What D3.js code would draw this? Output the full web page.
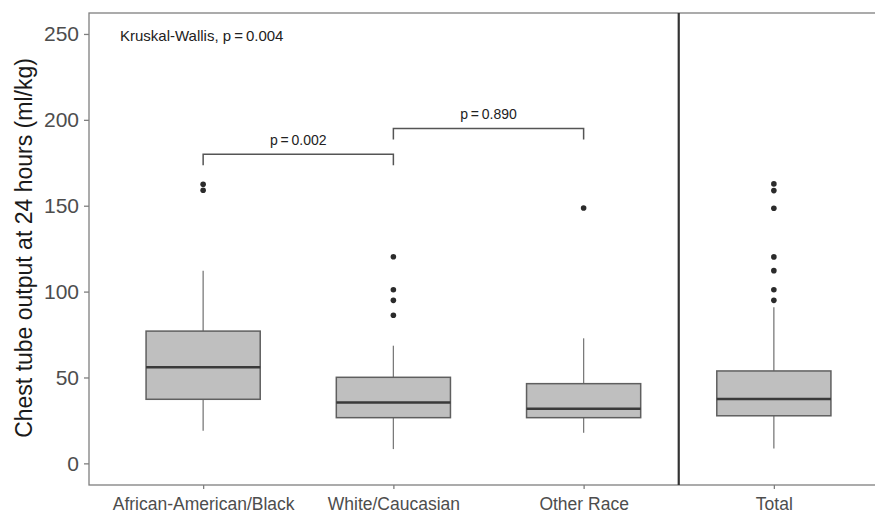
<!DOCTYPE html>
<html>
<head>
<meta charset="utf-8">
<script src="https://cdn.jsdelivr.net/npm/d3@7"></script>
<style>
  body { margin: 0; background: #fff; }
  text { font-family: "Liberation Sans", Arial, sans-serif; }
</style>
</head>
<body>
<div class="boxplot"></div>
<script>
// groups and box stats
const groups = ["African-American/Black", "White/Caucasian", "Other Race", "Total"];
const q1 = [37.3, 26.6, 26.6, 27.7];
const median = [56.0, 35.5, 31.8, 37.4];
const q3 = [77.0, 50.1, 46.4, 53.8];
const whiskerLow = [19.0, 8.3, 17.8, 8.7];
const whiskerHigh = [112.2, 68.5, 72.8, 90.9];
const outliers = [
    [162.5, 159.0],
    [120.3, 101.1, 94.9, 86.2],
    [148.7],
    [162.7, 158.8, 148.5, 120.2, 112.2, 101.1, 94.9]
];
const yTicks = [0, 50, 100, 150, 200, 250];
// pairwise comparisons: [from, to, bracket level, p]
const comparisons = [
    ["African-American/Black", "White/Caucasian", 180, "p\u2009=\u20090.002"],
    ["White/Caucasian", "Other Race", 195, "p\u2009=\u20090.890"]
];
const kruskalText = "Kruskal-Wallis, p\u2009=\u20090.004";

const margin = ({top: 13, right: -13, bottom: 28, left: 89});
const W = 875, H = 513;

const svg = d3.select(".boxplot")
    .append("svg")
    .attr("width", W)
    .attr("height", H);

const x = d3.scalePoint()
    .domain(groups)
    .range([margin.left, W - margin.right])
    .padding(0.6);

const y = d3.scaleLinear()
    .domain([-12.6, 262.2])
    .range([H - margin.bottom, margin.top]);

const boxW = x.step() * 0.6;

const data = groups.map((g, i) => ({
    g, q1: q1[i], med: median[i], q3: q3[i],
    lo: whiskerLow[i], hi: whiskerHigh[i], out: outliers[i]
}));

// panel border
svg.append("rect")
    .attr("x", margin.left)
    .attr("y", margin.top)
    .attr("width", (W - margin.right) - margin.left)
    .attr("height", y.range()[0] - margin.top)
    .attr("fill", "none")
    .attr("stroke", "#7f7f7f")
    .attr("stroke-width", 1.3);

// axes
const yAxis = svg.append("g")
    .attr("transform", `translate(${margin.left},0)`)
    .call(d3.axisLeft(y).tickValues(yTicks).tickSize(5).tickPadding(5));
yAxis.select(".domain").remove();
yAxis.selectAll(".tick line").attr("stroke", "#7f7f7f").attr("stroke-width", 1.3);
yAxis.selectAll(".tick text")
    .attr("fill", "#4d4d4d")
    .attr("font-size", 21)
    .style("font-family", "Liberation Sans, Arial, sans-serif");

const xAxis = svg.append("g")
    .attr("transform", `translate(0,${y.range()[0]})`)
    .call(d3.axisBottom(x).tickSize(4));
xAxis.select(".domain").remove();
xAxis.selectAll(".tick line").attr("stroke", "#7f7f7f").attr("stroke-width", 1.3);
xAxis.selectAll(".tick text")
    .attr("y", 25)
    .attr("dy", 0)
    .attr("fill", "#4d4d4d")
    .attr("font-size", 17.5)
    .style("font-family", "Liberation Sans, Arial, sans-serif");

svg.append("text")
    .attr("transform", `translate(32,${(margin.top + y.range()[0]) / 2 - 1}) rotate(-90)`)
    .attr("text-anchor", "middle")
    .attr("font-size", 23)
    .attr("fill", "#1a1a1a")
    .text("Chest tube output at 24 hours (ml/kg)");

// boxes
const box = svg.selectAll(".box")
    .data(data)
    .enter()
    .append("g")
    .attr("class", "box");

box.append("line")
    .attr("x1", d => x(d.g)).attr("x2", d => x(d.g))
    .attr("y1", d => y(d.hi)).attr("y2", d => y(d.q3))
    .attr("stroke", "#7a7a7a").attr("stroke-width", 1.3);
box.append("line")
    .attr("x1", d => x(d.g)).attr("x2", d => x(d.g))
    .attr("y1", d => y(d.q1)).attr("y2", d => y(d.lo))
    .attr("stroke", "#7a7a7a").attr("stroke-width", 1.3);

box.append("rect")
    .attr("x", d => x(d.g) - boxW / 2)
    .attr("y", d => y(d.q3))
    .attr("width", boxW)
    .attr("height", d => y(d.q1) - y(d.q3))
    .attr("fill", "#bfbfbf")
    .attr("stroke", "#5f5f5f")
    .attr("stroke-width", 1.5);

box.append("line")
    .attr("x1", d => x(d.g) - boxW / 2).attr("x2", d => x(d.g) + boxW / 2)
    .attr("y1", d => y(d.med)).attr("y2", d => y(d.med))
    .attr("stroke", "#3a3a3a").attr("stroke-width", 2.5);

box.selectAll("circle")
    .data(d => d.out.map(v => ({g: d.g, v})))
    .enter()
    .append("circle")
    .attr("cx", d => x(d.g))
    .attr("cy", d => y(d.v))
    .attr("r", 2.8)
    .attr("fill", "#2b2b2b");

// separator before Total
const sepX = (x("Other Race") + x("Total")) / 2;
svg.append("line")
    .attr("x1", sepX).attr("x2", sepX)
    .attr("y1", margin.top).attr("y2", y.range()[0])
    .attr("stroke", "#333").attr("stroke-width", 2.2);

// comparison brackets
const br = svg.selectAll(".bracket")
    .data(comparisons)
    .enter()
    .append("g")
    .attr("class", "bracket");

br.append("path")
    .attr("d", d => {
        const x1 = x(d[0]), x2 = x(d[1]), yt = y(d[2]), yb = y(d[2] - 6.5);
        return `M${x1},${yb}V${yt}H${x2}V${yb}`;
    })
    .attr("fill", "none")
    .attr("stroke", "#555")
    .attr("stroke-width", 1.5);

br.append("text")
    .attr("x", d => (x(d[0]) + x(d[1])) / 2)
    .attr("y", d => y(d[2]) - 9)
    .attr("text-anchor", "middle")
    .attr("font-size", 14)
    .attr("fill", "#222")
    .text(d => d[3]);

svg.append("text")
    .attr("x", 120)
    .attr("y", 41)
    .attr("font-size", 15)
    .attr("fill", "#222")
    .text(kruskalText);
</script>
</body>
</html>
